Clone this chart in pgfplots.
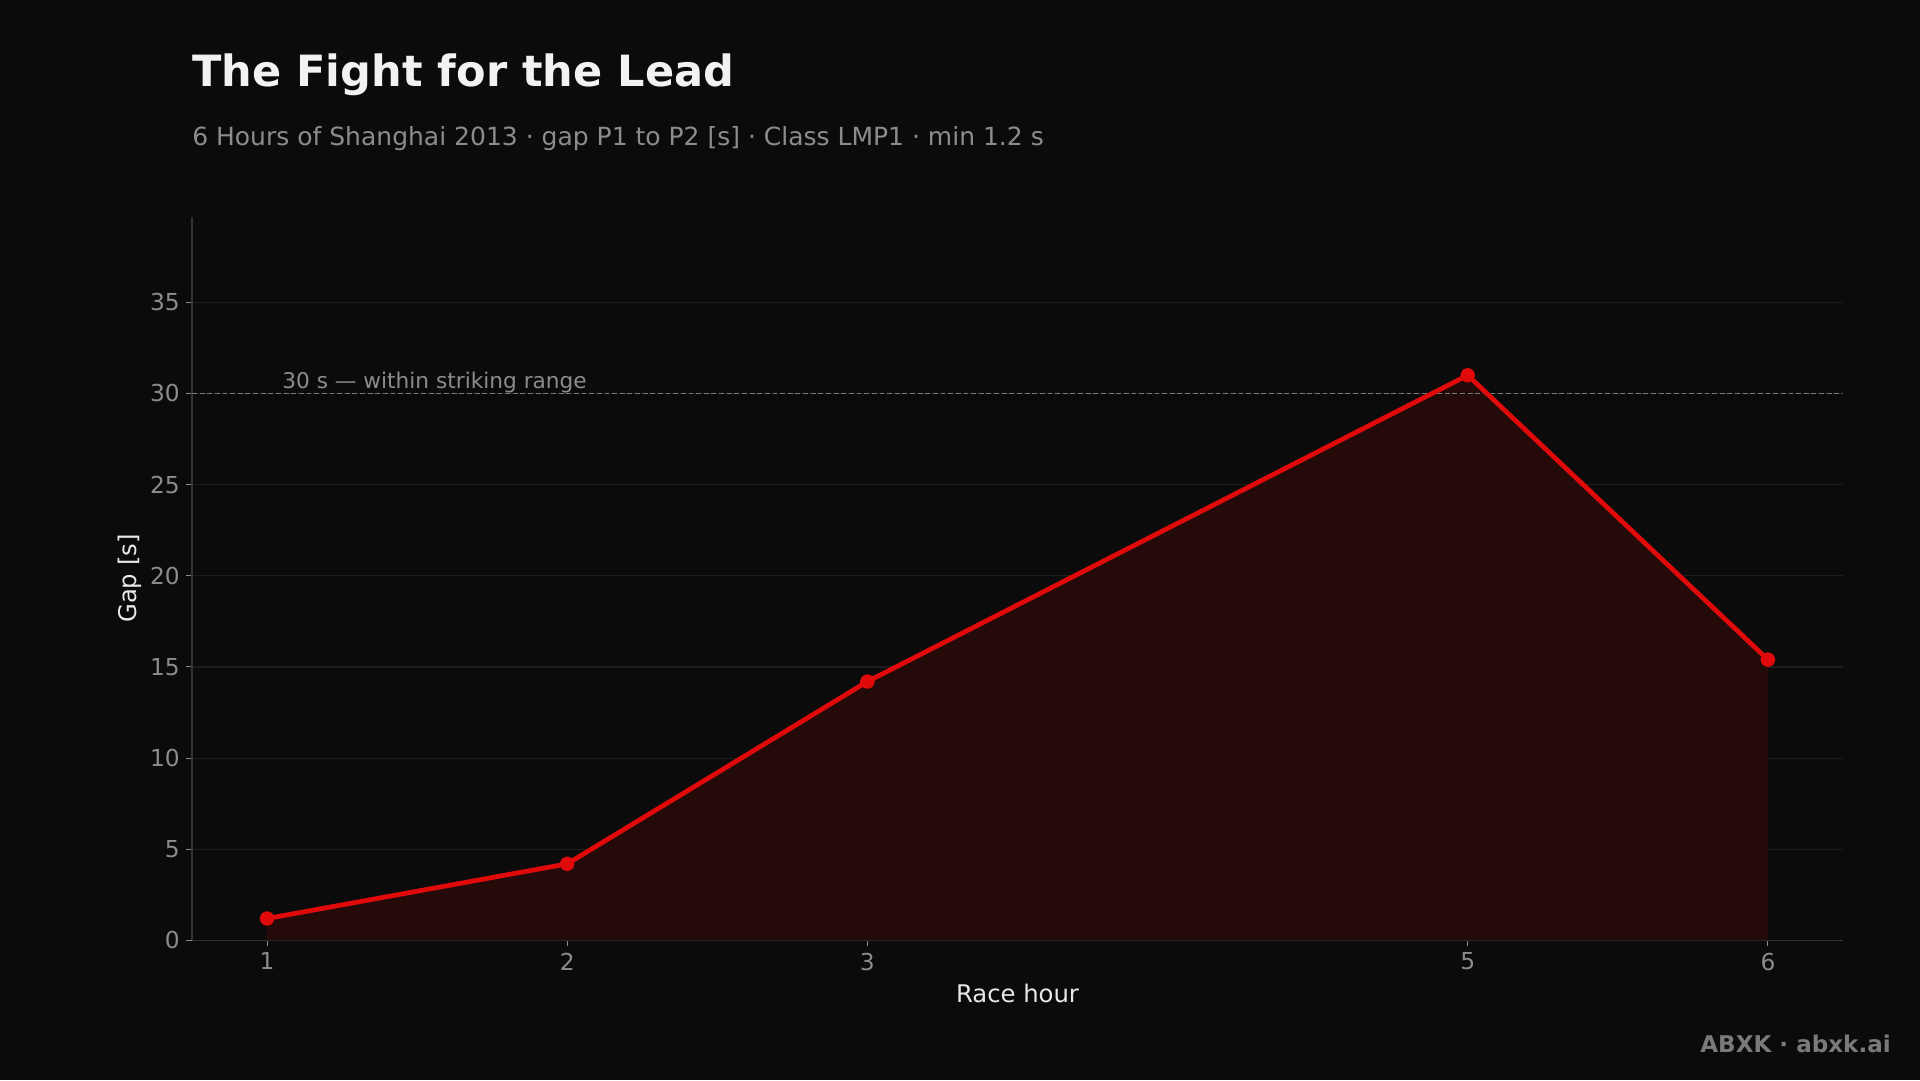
\documentclass[border=0pt]{standalone}
\usepackage{fontspec}
\setmainfont{DejaVu Sans}
\usepackage{pgfplots}
\pgfplotsset{compat=1.18}
\definecolor{bg}{HTML}{0B0B0B}
\definecolor{gridc}{HTML}{1E1E1E}
\definecolor{spine}{HTML}{333333}
\definecolor{tickc}{HTML}{8C8C8C}
\definecolor{linered}{HTML}{E00A0A}
\definecolor{fillred}{HTML}{250A0A}
\definecolor{refc}{HTML}{7A7A7A}
\definecolor{titlec}{HTML}{F2F2F2}
\definecolor{labc}{HTML}{E8E8E8}
\definecolor{wmc}{HTML}{7A7A7A}
\pgfplotstableread{
x y
1 1.2
2 4.2
3 14.2
5 31.0
6 15.4
}\gapdata
\begin{document}
\begin{tikzpicture}[x=0.72pt,y=0.72pt]
\fill[bg] (0,0) rectangle (1920,1080);
\node[anchor=west, inner sep=0pt, text=titlec, font=\fontsize{31}{36}\selectfont\bfseries] at (192,1005.5) {The Fight for the Lead};
\node[anchor=west, inner sep=0pt, text=tickc, font=\fontsize{18}{22}\selectfont] at (192,941) {6 Hours of Shanghai 2013 · gap P1 to P2 [s] · Class LMP1 · min 1.2 s};
\node[anchor=east, inner sep=0pt, text=wmc, font=\fontsize{16.6}{20}\selectfont\bfseries] at (1891,36) {ABXK · abxk.ai};
\begin{axis}[
  at={(138.24pt,100.5pt)}, anchor=south west,
  scale only axis, width=1188.7pt, height=521.1pt,
  xmin=0.75, xmax=6.25, ymin=0, ymax=39.7,
  axis x line*=bottom, axis y line*=left,
  axis line style={spine, line width=0.8pt, -},
  xtick={1,2,3,5,6}, ytick={0,5,...,35},
  tick align=outside, major tick length=4.3pt,
  tick style={tickc, line width=0.7pt},
  /pgf/number format/assume math mode=true,
  ticklabel style={text=tickc, font=\fontsize{16.8}{20}\selectfont},
  xticklabel style={yshift=-1pt},
  yticklabel style={xshift=-1pt},
  ymajorgrids, major grid style={gridc, line width=0.8pt},
  xlabel={Race hour}, ylabel={Gap [s]},
  label style={text=labc, font=\fontsize{17.5}{21}\selectfont},
  xlabel style={at={(rel axis cs:0.5,0)}, anchor=center, yshift=-38.2pt},
  ylabel style={at={(axis description cs:-0.0375,0.5)}, anchor=center, rotate=0},
  clip=false,
]
\addplot[draw=none, fill=fillred] table {\gapdata} \closedcycle;
\draw[refc, line width=0.9pt, dash pattern=on 3.5pt off 2pt] (axis cs:0.75,30) -- (axis cs:6.25,30);
\node[anchor=base west, inner sep=0pt, text=tickc, font=\fontsize{15.6}{19}\selectfont] at (axis cs:1.05,30.25) {30 s — within striking range};
\addplot[linered, line width=3.4pt, line join=round, mark=*, mark size=3.6pt, mark options={fill=linered, draw=none, solid}] table {\gapdata};
\end{axis}
\end{tikzpicture}
\end{document}
